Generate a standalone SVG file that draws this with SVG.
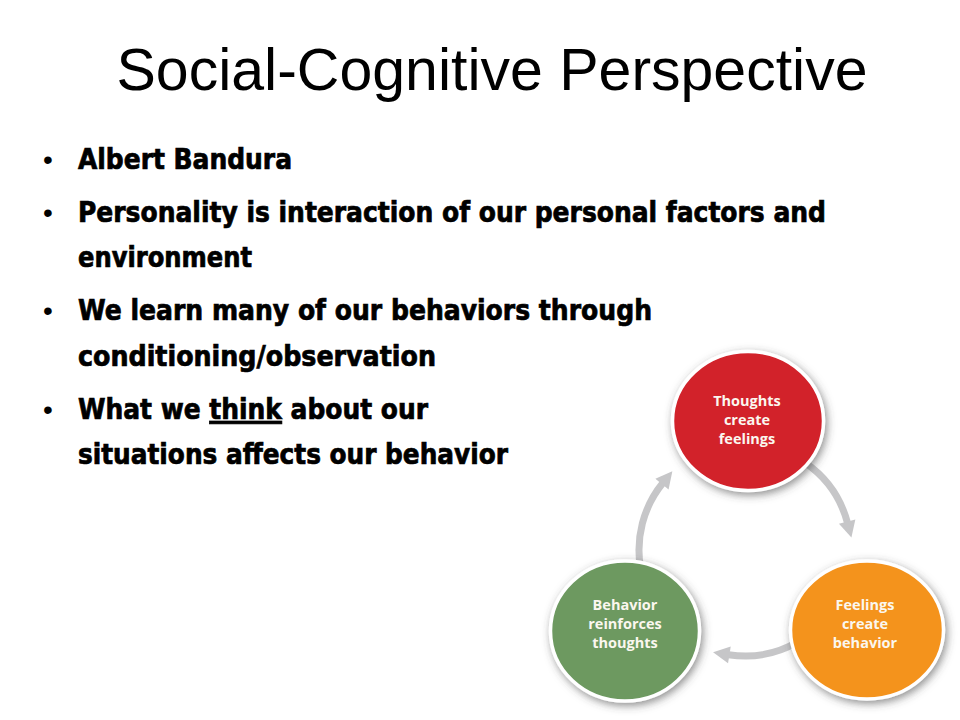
<svg xmlns="http://www.w3.org/2000/svg" width="960" height="720" viewBox="0 0 960 720">
  <style>
    .title { font-family: "Liberation Sans", Arial, sans-serif; font-size: 59px; fill: #000; }
    .bul { font-family: "DejaVu Sans Condensed", "Liberation Sans", sans-serif; font-weight: bold; font-size: 29px; fill: #000; stroke: #000; stroke-width: 0.7; }
    .dot { font-family: "Liberation Sans", Arial, sans-serif; font-size: 28px; fill: #000; }
    .node { stroke: #ffffff; stroke-width: 3.5; }
    .lbl { font-family: "Open Sans", "Noto Sans", sans-serif; font-weight: bold; font-size: 14.5px; fill: #fbf7ef; text-anchor: middle; }
    .conn { fill: none; stroke: #c6c6c8; stroke-width: 7; marker-end: url(#ah); }
  </style>
  <defs>
    <marker id="ah" markerUnits="userSpaceOnUse" markerWidth="18" markerHeight="18" viewBox="0 0 17 18" refX="1" refY="9" orient="auto">
      <path d="M0,0.5 L16.5,9 L0,17.5 z" fill="#c6c6c8"/>
    </marker>
    <filter id="sh" x="-20%" y="-20%" width="140%" height="140%">
      <feDropShadow dx="2" dy="3" stdDeviation="4.5" flood-color="#444444" flood-opacity="0.6"/>
    </filter>
  </defs>
  <rect width="960" height="720" fill="#ffffff"/>

  <text class="title" x="492" y="90" text-anchor="middle">Social-Cognitive Perspective</text>

  <g id="bullets">
    <text class="dot" x="43" y="169">•</text>
    <text class="bul" x="78" y="169" textLength="214" lengthAdjust="spacingAndGlyphs">Albert Bandura</text>
    <text class="dot" x="43" y="222">•</text>
    <text class="bul" x="78" y="222" textLength="748" lengthAdjust="spacingAndGlyphs">Personality is interaction of our personal factors and</text>
    <text class="bul" x="78" y="267" textLength="174" lengthAdjust="spacingAndGlyphs">environment</text>
    <text class="dot" x="43" y="320">•</text>
    <text class="bul" x="78" y="320" textLength="574" lengthAdjust="spacingAndGlyphs">We learn many of our behaviors through</text>
    <text class="bul" x="78" y="366" textLength="358" lengthAdjust="spacingAndGlyphs">conditioning/observation</text>
    <text class="dot" x="43" y="419">•</text>
    <text class="bul" x="78" y="419" textLength="350" lengthAdjust="spacingAndGlyphs">What we <tspan text-decoration="underline">think</tspan> about our</text>
    <text class="bul" x="78" y="464" textLength="430" lengthAdjust="spacingAndGlyphs">situations affects our behavior</text>
  </g>

  <g id="connectors">
    <path class="conn" d="M 805.8 463.2 A 106 106 0 0 1 847.4 522.6"/>
    <path class="conn" d="M 798 641.8 A 106 106 0 0 1 728.4 654.7"/>
    <path class="conn" d="M 640.6 568.4 A 106 106 0 0 1 662.6 483.3"/>
  </g>

  <g id="node-thoughts">
    <ellipse class="node" cx="748" cy="421" rx="75.5" ry="69.5" fill="#d2202b" filter="url(#sh)"/>
    <text class="lbl" x="747" y="406">Thoughts</text>
    <text class="lbl" x="747" y="425">create</text>
    <text class="lbl" x="747" y="444">feelings</text>
  </g>

  <g id="node-feelings">
    <ellipse class="node" cx="867" cy="630" rx="76.5" ry="69" fill="#f4931f" filter="url(#sh)"/>
    <text class="lbl" x="865" y="610">Feelings</text>
    <text class="lbl" x="865" y="629">create</text>
    <text class="lbl" x="865" y="648">behavior</text>
  </g>

  <g id="node-behavior">
    <ellipse class="node" cx="625" cy="631" rx="74.5" ry="70" fill="#6d9961" filter="url(#sh)"/>
    <text class="lbl" x="625" y="610">Behavior</text>
    <text class="lbl" x="625" y="629">reinforces</text>
    <text class="lbl" x="625" y="648">thoughts</text>
  </g>
</svg>
